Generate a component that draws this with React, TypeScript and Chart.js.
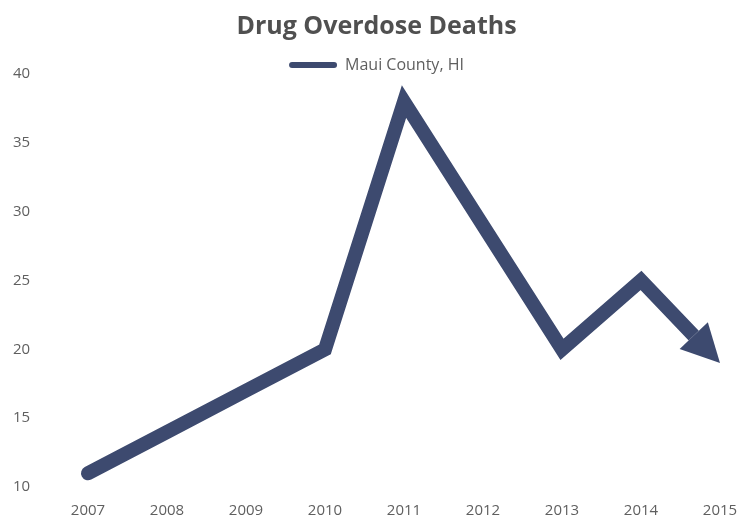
import { useEffect, useRef } from "react";
import { Chart, registerables } from "chart.js";

Chart.register(...registerables);

const years = ["2007", "2008", "2009", "2010", "2011", "2012", "2013", "2014", "2015"];
const deaths = [11, 14, 17, 20, 38, 29, 20, 25, 19];
const yMin = 10;
const yMax = 40;
const yStep = 5;

const LINE_COLOR = "#3d4a6f";
const TEXT_COLOR = "#5f5f5f";
const FONT = "'Open Sans', 'DejaVu Sans', sans-serif";

// Arrowhead on the final point; the line itself is clipped at the arrow's base.
const ARROW_LEN = 38;
const ARROW_HALF = 19.5;

const arrowHead = {
  id: "arrowHead",
  beforeDatasetDraw(chart: any, args: any) {
    const pts = args.meta.data;
    if (pts.length < 2) return;
    const a = pts[pts.length - 2];
    const b = pts[pts.length - 1];
    const dx = b.x - a.x;
    const dy = b.y - a.y;
    const len = Math.hypot(dx, dy) || 1;
    const ux = dx / len;
    const uy = dy / len;
    const nx = -uy;
    const ny = ux;
    const bx = b.x - ux * ARROW_LEN;
    const by = b.y - uy * ARROW_LEN;
    const W = 40;
    const L = 80;
    const ctx = chart.ctx;
    ctx.save();
    ctx.beginPath();
    ctx.rect(0, 0, chart.width, chart.height);
    ctx.moveTo(bx + nx * W, by + ny * W);
    ctx.lineTo(bx - nx * W, by - ny * W);
    ctx.lineTo(bx - nx * W + ux * L, by - ny * W + uy * L);
    ctx.lineTo(bx + nx * W + ux * L, by + ny * W + uy * L);
    ctx.closePath();
    ctx.clip("evenodd");
  },
  afterDatasetDraw(chart: any, args: any) {
    const pts = args.meta.data;
    if (pts.length < 2) return;
    const ctx = chart.ctx;
    ctx.restore();
    const a = pts[pts.length - 2];
    const b = pts[pts.length - 1];
    const dx = b.x - a.x;
    const dy = b.y - a.y;
    const len = Math.hypot(dx, dy) || 1;
    const ux = dx / len;
    const uy = dy / len;
    const nx = -uy;
    const ny = ux;
    const bx = b.x - ux * ARROW_LEN;
    const by = b.y - uy * ARROW_LEN;
    ctx.save();
    ctx.fillStyle = LINE_COLOR;
    ctx.beginPath();
    ctx.moveTo(b.x, b.y);
    ctx.lineTo(bx + nx * ARROW_HALF, by + ny * ARROW_HALF);
    ctx.lineTo(bx - nx * ARROW_HALF, by - ny * ARROW_HALF);
    ctx.closePath();
    ctx.fill();
    ctx.restore();
  },
};

export default function App() {
  const canvasRef = useRef<HTMLCanvasElement | null>(null);

  useEffect(() => {
    const canvas = canvasRef.current;
    if (!canvas) return;
    const chart = new Chart(canvas, {
      type: "line",
      data: {
        labels: years,
        datasets: [
          {
            label: "Maui County, HI",
            data: deaths,
            borderColor: LINE_COLOR,
            backgroundColor: LINE_COLOR,
            borderWidth: 14,
            borderCapStyle: "round",
            borderJoinStyle: "miter",
            pointRadius: 0,
            pointHoverRadius: 0,
            tension: 0,
            fill: false,
            clip: false,
          } as any,
        ],
      },
      options: {
        animation: false,
        responsive: true,
        maintainAspectRatio: false,
        events: [],
        layout: { padding: { left: 13, right: 2, top: 0, bottom: 0 } },
        plugins: {
          title: {
            display: true,
            text: "Drug Overdose Deaths",
            color: "#505050",
            font: { family: FONT, size: 25, weight: "bold" },
            padding: { top: 12, bottom: 15 },
          },
          legend: {
            display: true,
            position: "top",
            maxHeight: 17,
            labels: {
              color: TEXT_COLOR,
              font: { family: FONT, size: 16 },
              boxWidth: 48,
              boxHeight: 6,
              useBorderRadius: true,
              borderRadius: 3,
              padding: 0,
              generateLabels: (c: any) =>
                c.data.datasets.map((ds: any, i: number) => ({
                  text: ds.label,
                  fillStyle: LINE_COLOR,
                  strokeStyle: LINE_COLOR,
                  lineWidth: 0,
                  fontColor: TEXT_COLOR,
                  datasetIndex: i,
                  borderRadius: 3,
                })),
            },
          },
          tooltip: { enabled: false },
        },
        scales: {
          x: {
            offset: false,
            grid: { display: false, drawTicks: false },
            border: { display: false },
            afterFit: (scale: any) => {
              scale.height = 33;
              scale.paddingRight = 22;
            },
            ticks: {
              color: TEXT_COLOR,
              font: { family: FONT, size: 15 },
              padding: 15,
              maxRotation: 0,
            },
          },
          y: {
            min: yMin,
            max: yMax,
            grid: { display: false, drawTicks: false },
            border: { display: false },
            afterFit: (scale: any) => {
              scale.width = 75;
            },
            ticks: {
              stepSize: yStep,
              color: TEXT_COLOR,
              font: { family: FONT, size: 15 },
              crossAlign: "far",
              padding: 0,
            },
          },
        },
      },
      plugins: [arrowHead],
    });
    return () => chart.destroy();
  }, []);

  return (
    <div style={{ position: "absolute", left: 0, top: 0, width: 742, height: 520, background: "#fff" }}>
      <canvas ref={canvasRef} />
    </div>
  );
}
